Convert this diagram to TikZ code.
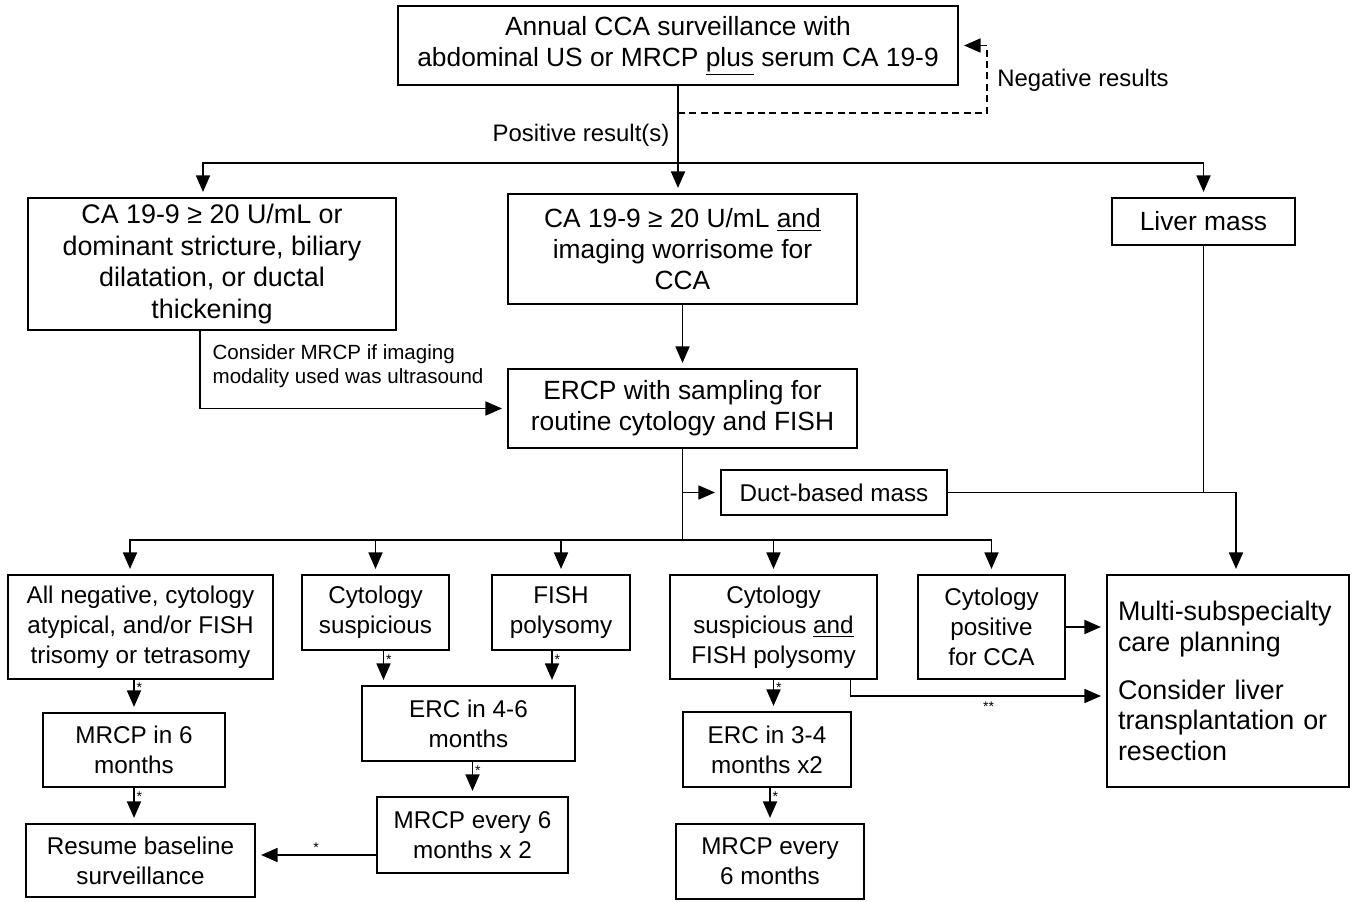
\documentclass[tikz,border=0pt]{standalone}
\usepackage{fontspec}
\setmainfont{Liberation Sans}
\usetikzlibrary{arrows.meta}

\begin{document}
\begin{tikzpicture}[x=0.02cm,y=-0.02cm,line width=0.9pt,
        box/.style 2 args={shape=rectangle,draw=black,align=center,inner sep=0pt,
            minimum width=#1*0.02cm,minimum height=#2*0.02cm,font=\fontsize{15}{17.6}\selectfont},
        sbox/.style 2 args={box={#1}{#2},font=\fontsize{13.8}{17}\selectfont},
        arr/.style={-{Triangle[length=9.4pt,width=8pt]},shorten >=3pt},
        note/.style={font=\fontsize{13.6}{15}\selectfont},
        star/.style={font=\fontsize{8}{8}\selectfont,inner sep=1pt}]
                \useasboundingbox (0,0) rectangle (1357,902);
                \node[box={560}{79}] (annual) at (678,45.5) {Annual CCA surveillance with\\abdominal US or MRCP \underline{plus} serum CA 19-9};
                \node[box={368}{132},font=\fontsize{15.3}{18}\selectfont] (caor) at (212,264) {CA 19-9 ≥ 20 U/mL or\\dominant stricture, biliary\\dilatation, or ductal\\thickening};
                \node[box={349}{110}] (caand) at (682.5,249) {CA 19-9 ≥ 20 U/mL \underline{and}\\imaging worrisome for\\CCA};
                \node[box={183}{47}] (liver) at (1203.5,221.5) {Liver mass};
                \node[box={349}{79}] (ercp) at (682.5,408.5) {ERCP with sampling for\\routine cytology and FISH};
                \node[sbox={226}{45}] (duct) at (834,492.5) {Duct-based mass};
                \node[sbox={265}{104}] (allneg) at (140.5,627) {All negative, cytology\\atypical, and/or FISH\\trisomy or tetrasomy};
                \node[sbox={147}{75}] (cytsus) at (375.5,612.5) {Cytology\\suspicious};
                \node[sbox={138}{75}] (fish) at (561,612.5) {FISH\\polysomy};
                \node[sbox={207}{104}] (cytfish) at (773.5,627) {Cytology\\suspicious \underline{and}\\FISH polysomy};
                \node[sbox={147}{104}] (cytpos) at (991.5,627) {Cytology\\positive\\for CCA};
                \node[box={242}{212},align=left,text width=4.4cm,font=\fontsize{15.3}{17.6}\selectfont] (multi) at (1228,681) {Multi-subspecialty\\care planning\\[9.6pt]Consider liver\\transplantation or\\resection};
                \node[sbox={182}{74}] (mrcpsix) at (134,750) {MRCP in 6\\months};
                \node[sbox={229}{73}] (resume) at (140.5,860.5) {Resume baseline\\surveillance};
                \node[sbox={213}{75}] (ercfour) at (468.5,723.5) {ERC in 4-6\\months};
                \node[sbox={191}{76}] (mrcptwice) at (472.5,835) {MRCP every 6\\months x 2};
                \node[sbox={168}{75}] (ercthree) at (767,749.5) {ERC in 3-4\\months x2};
                \node[sbox={188}{75}] (mrcpevery) at (770,861.5) {MRCP every\\6 months};
                \node[note] (neg) at (1083,80) {Negative results};
                \node[note] (pos) at (581,135) {Positive result(s)};
                \node[note,align=left,anchor=west,font=\fontsize{11.7}{13.6}\selectfont] (consider) at (206,366) {Consider MRCP if imaging\\modality used was ultrasound};
                \coordinate (top) at (678,163);
                \coordinate (back) at (678,113);
                \coordinate (low) at (682.5,540);
                \draw[arr] (annual.south) -- (annual.south |- caand.north);
                \draw[arr] (top) -| ([xshift=-0.18cm]caor.north);
                \draw[arr] (top) -| (liver.north);
                \draw[arr,dash pattern=on 4pt off 2.5pt] (back) -- ++(309,0) |- (annual.east);
                \draw[arr] (caand) -- (ercp);
                \draw[arr] ([xshift=-0.24cm]caor.south) |- (ercp.west);
                \draw (ercp.south) -- (low);
                \draw[arr] (ercp.south |- duct.west) -- (duct.west);
                \draw[arr] (duct.east) -| ([xshift=0.16cm]multi.north);
                \draw (liver.south) -- (liver.south |- duct.east);
                \draw[arr] (low) -| ([xshift=-0.21cm]allneg.north);
                \draw[arr] (low) -| (cytsus.north);
                \draw[arr] (low) -| (fish.north);
                \draw[arr] (low) -| (cytfish.north);
                \draw[arr] (low) -| (cytpos.north);
                \draw[arr] (cytpos.east) -- (cytpos.east -| multi.west);
                \draw[arr] ([xshift=1.54cm]cytfish.south) |- ([yshift=-0.3cm]multi.west) node[star,pos=0.77,below=2pt] {**};
                \draw[arr] (mrcpsix.north |- allneg.south) -- (mrcpsix.north) node[star,pos=0.25,right] {*};
                \draw[arr] (mrcpsix.south) -- (mrcpsix.south |- resume.north) node[star,pos=0.25,right] {*};
                \draw[arr] ([xshift=0.16cm]cytsus.south) -- ([xshift=0.16cm]cytsus.south |- ercfour.north) node[star,pos=0.25,right] {*};
                \draw[arr] ([xshift=-0.18cm]fish.south) -- ([xshift=-0.18cm]fish.south |- ercfour.north) node[star,pos=0.25,right] {*};
                \draw[arr] (mrcptwice.north |- ercfour.south) -- (mrcptwice.north) node[star,pos=0.25,right] {*};
                \draw[arr] ([yshift=-0.4cm]mrcptwice.west) -- ([yshift=-0.4cm]mrcptwice.west -| resume.east) node[star,midway,above] {*};
                \draw[arr] (cytfish.south) -- (cytfish.south |- ercthree.north) node[star,pos=0.25,right] {*};
                \draw[arr] (mrcpevery.north |- ercthree.south) -- (mrcpevery.north) node[star,pos=0.25,right] {*};
            \end{tikzpicture}
\end{document}
